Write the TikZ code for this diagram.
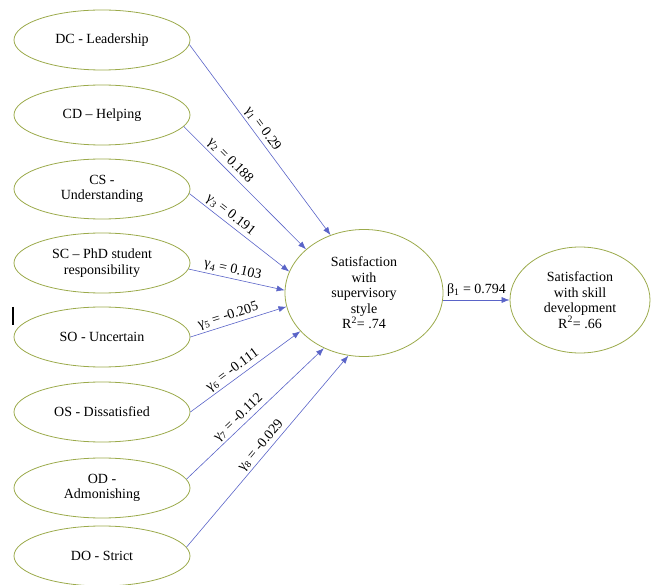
\documentclass[tikz,border=0pt]{standalone}
\usepackage{fontspec}
\setmainfont{Liberation Serif}
\usetikzlibrary{shapes.geometric,arrows.meta}
\definecolor{ellcol}{RGB}{155,170,75}
\definecolor{arrcol}{RGB}{90,100,200}
\tikzset{
  lat/.style={ellipse, draw=ellcol, line width=0.8pt, minimum width=176pt, minimum height=60pt, inner sep=0pt, align=center, font=\fontsize{14}{15.5}\selectfont},
  bigell/.style={ellipse, draw=ellcol, line width=0.8pt, inner sep=0pt, align=center, font=\fontsize{14}{15.5}\selectfont},
  path/.style={draw=arrcol, line width=0.6pt, -{Latex[length=8pt,width=6pt]}},
  coef/.style={sloped, above, inner sep=2pt, font=\fontsize{14}{15}\selectfont}
}
\begin{document}
\begin{tikzpicture}[x=1pt,y=-1pt]
\useasboundingbox (0,0) rectangle (656,585);
\node[lat] (dc) at (102,40) {DC - Leadership};
\node[lat] (cd) at (102,115) {CD -- Helping};
\node[lat] (cs) at (102,189) {CS -\\Understanding};
\node[lat] (sc) at (102,263) {SC -- PhD student\\responsibility};
\node[lat] (so) at (102,337) {SO - Uncertain};
\node[lat] (os) at (102,412) {OS - Dissatisfied};
\node[lat] (od) at (102,488) {OD -\\Admonishing};
\node[lat] (do) at (102,556) {DO - Strict};
\node[bigell, minimum width=158pt, minimum height=127pt] (sat) at (364,293) {Satisfaction\\with\\supervisory\\style\\R\textsuperscript{2}= .74};
\node[bigell, minimum width=140pt, minimum height=106pt] (skill) at (580,300) {Satisfaction\\with skill\\development\\R\textsuperscript{2}= .66};
\draw[path] (dc.-3) -- node[coef, pos=0.47] {γ\textsubscript{1} = 0.29} (sat.120);
\draw[path] (cd.-8) -- node[coef, pos=0.33] {γ\textsubscript{2} = 0.188} (sat.143);
\draw[path] (cs.-3) -- node[coef, pos=0.36] {γ\textsubscript{3} = 0.191} (sat.164);
\draw[path] (sc.-4) -- node[coef, pos=0.44] {γ\textsubscript{4} = 0.103} (sat.178);
\draw[path] (so.east) -- node[coef, pos=0.42] {γ\textsubscript{5} = -0.205} (sat.190);
\draw[path] (os.east) -- node[coef, pos=0.43] {γ\textsubscript{6} = -0.111} (sat.211);
\draw[path] (od.6) -- node[coef, pos=0.42] {γ\textsubscript{7} = -0.112} (sat.234);
\draw[path] (do.6) -- node[coef, pos=0.5] {γ\textsubscript{8} = -0.029} (sat.256);
\draw[path] (sat.east |- skill.west) -- node[above, inner sep=3pt, font=\fontsize{14}{15}\selectfont] {β\textsubscript{1} = 0.794} (skill.west);
\draw[line width=1.2pt] (13,307) -- (13,325);
\end{tikzpicture}
\end{document}
